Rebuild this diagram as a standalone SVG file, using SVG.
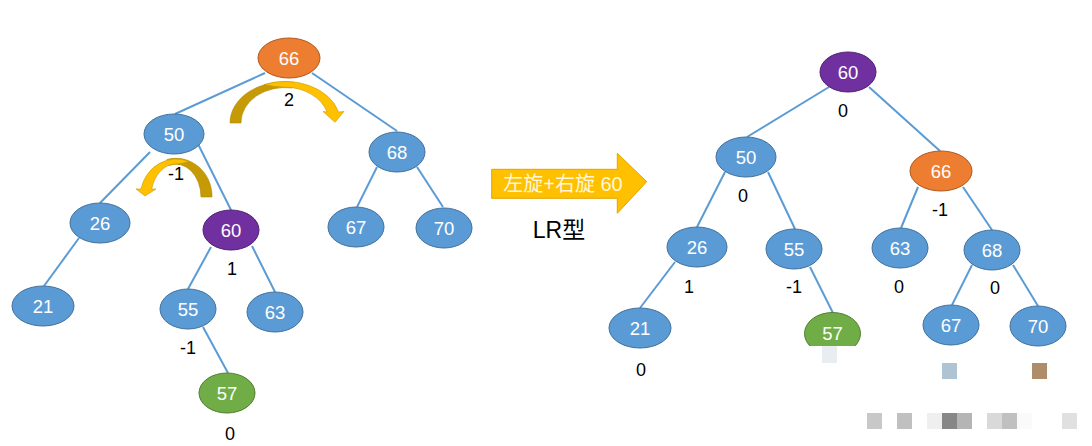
<svg xmlns="http://www.w3.org/2000/svg" width="1092" height="446" viewBox="0 0 1092 446">
<style>
.edge{stroke:#5b9bd5;stroke-width:2;fill:none}
.blue{fill:#5b9bd5;stroke:#41719c;stroke-width:1}
.orange{fill:#ed7d31;stroke:#ae5a21;stroke-width:1}
.purple{fill:#7030a0;stroke:#4f2270;stroke-width:1}
.green{fill:#70ad47;stroke:#507e32;stroke-width:1}
.nt{font-family:"Liberation Sans","Open Sans",sans-serif;font-size:18.5px;fill:#ffffff;text-anchor:middle}
.bf{font-family:"Liberation Sans","Open Sans",sans-serif;font-size:18px;fill:#000000;text-anchor:middle}
.dark{fill:#c59a05;stroke:#b08800;stroke-width:0.6}
.yel{fill:#ffc000;stroke:#c89a00;stroke-width:0.6}
</style>
<defs>
<clipPath id="cut57"><rect x="790" y="300" width="80" height="46"/></clipPath>
</defs>
<rect width="1092" height="446" fill="#ffffff"/>

<g id="connectors">
<line class="edge" x1="265" y1="73" x2="175" y2="114"/>
<line class="edge" x1="312" y1="73" x2="397" y2="131"/>
<line class="edge" x1="150" y1="152" x2="100" y2="203"/>
<line class="edge" x1="196" y1="140" x2="231" y2="210"/>
<line class="edge" x1="79" y1="238" x2="44" y2="286"/>
<line class="edge" x1="211" y1="247" x2="188" y2="289"/>
<line class="edge" x1="252" y1="246" x2="275" y2="292"/>
<line class="edge" x1="203" y1="327" x2="228" y2="373"/>
<line class="edge" x1="377" y1="167" x2="357" y2="207"/>
<line class="edge" x1="417" y1="167" x2="443" y2="207"/>
<line class="edge" x1="829" y1="87" x2="747" y2="137"/>
<line class="edge" x1="869" y1="87" x2="940" y2="151"/>
<line class="edge" x1="725" y1="172" x2="697" y2="227"/>
<line class="edge" x1="768" y1="172" x2="795" y2="229"/>
<line class="edge" x1="675" y1="262" x2="640" y2="308"/>
<line class="edge" x1="810" y1="267" x2="833" y2="313"/>
<line class="edge" x1="918" y1="187" x2="901" y2="228"/>
<line class="edge" x1="963" y1="187" x2="992" y2="230"/>
<line class="edge" x1="972" y1="265" x2="952" y2="305"/>
<line class="edge" x1="1013" y1="265" x2="1038" y2="306"/>
</g>

<g id="rot-arrow-big">
<path class="dark" d="M230,123 A55 41 0 0 1 294,82.3 L292,88 A44 35 0 0 0 241,123 Z"/>
<path class="yel" d="M264,84.6 A55 41 0 0 1 338.5,112 L344,111.5 L335,122.3 L323,111.5 L327,112 A44 35 0 0 0 285,87.2 Q275,87 264,84.6 Z"/>
</g>
<g id="rot-arrow-small">
<path class="dark" d="M212,197 A36 38 0 0 0 167,159.5 L169,165.5 A25 33 0 0 1 201,197 Z"/>
<path class="yel" d="M189,161.5 A36 38 0 0 0 141,189 L136,189 L145,196 L156,189 L151.7,189 A25 33 0 0 1 176,164 Q182,163.5 189,161.5 Z"/>
</g>

<!-- left tree -->
<g id="L66"><ellipse class="orange" cx="289" cy="58" rx="31" ry="20"/><text class="nt" x="289" y="64.5">66</text><text class="bf" x="289" y="105.5">2</text></g>
<g id="L50"><ellipse class="blue" cx="174" cy="134" rx="30" ry="20"/><text class="nt" x="174" y="140.5">50</text><text class="bf" x="176" y="179.5">-1</text></g>
<g id="L68"><ellipse class="blue" cx="397" cy="152" rx="28" ry="20"/><text class="nt" x="397" y="158.5">68</text></g>
<g id="L26"><ellipse class="blue" cx="100" cy="223" rx="30" ry="20"/><text class="nt" x="100" y="229.5">26</text></g>
<g id="L60"><ellipse class="purple" cx="231" cy="230" rx="28" ry="20"/><text class="nt" x="231" y="236.5">60</text><text class="bf" x="232" y="274.5">1</text></g>
<g id="L67"><ellipse class="blue" cx="356" cy="227" rx="28" ry="20"/><text class="nt" x="356" y="233.5">67</text></g>
<g id="L70"><ellipse class="blue" cx="444" cy="228" rx="28" ry="20"/><text class="nt" x="444" y="234.5">70</text></g>
<g id="L21"><ellipse class="blue" cx="43" cy="306" rx="31" ry="20"/><text class="nt" x="43" y="312.5">21</text></g>
<g id="L55"><ellipse class="blue" cx="188" cy="309" rx="28" ry="20"/><text class="nt" x="188" y="315.5">55</text><text class="bf" x="188" y="353.5">-1</text></g>
<g id="L63"><ellipse class="blue" cx="275" cy="312" rx="28" ry="20"/><text class="nt" x="275" y="318.5">63</text></g>
<g id="L57"><ellipse class="green" cx="227" cy="393" rx="28" ry="20"/><text class="nt" x="227" y="399.5">57</text><text class="bf" x="230" y="439.5">0</text></g>

<!-- middle arrow -->
<g id="transform-arrow">
<path d="M491.7,169.3 L617.3,169.3 L617.3,153.3 L646.7,181.7 L617.3,213.3 L617.3,198.3 L491.7,198.3 Z" fill="#ffc000" stroke="#e0a400" stroke-width="1"/>
<text x="563" y="190.5" font-family="'Liberation Sans','Noto Sans CJK SC',sans-serif" font-size="20" fill="#fff6dc" text-anchor="middle">左旋+右旋 60</text>
<text x="559" y="237.5" font-family="'Liberation Sans','Noto Sans CJK SC',sans-serif" font-size="23" fill="#000000" text-anchor="middle">LR型</text>
</g>

<!-- right tree -->
<g id="R60"><ellipse class="purple" cx="848" cy="72" rx="28" ry="20"/><text class="nt" x="848" y="78.5">60</text><text class="bf" x="843" y="117">0</text></g>
<g id="R50"><ellipse class="blue" cx="746" cy="157" rx="30" ry="20"/><text class="nt" x="746" y="163.5">50</text><text class="bf" x="743" y="201.5">0</text></g>
<g id="R66"><ellipse class="orange" cx="941" cy="171" rx="31" ry="20"/><text class="nt" x="941" y="177.5">66</text><text class="bf" x="940" y="215.5">-1</text></g>
<g id="R26"><ellipse class="blue" cx="697" cy="247" rx="30" ry="20"/><text class="nt" x="697" y="253.5">26</text><text class="bf" x="689" y="293">1</text></g>
<g id="R55"><ellipse class="blue" cx="794" cy="249" rx="28" ry="20"/><text class="nt" x="794" y="255.5">55</text><text class="bf" x="794" y="292.5">-1</text></g>
<g id="R63"><ellipse class="blue" cx="900" cy="248" rx="28" ry="20"/><text class="nt" x="900" y="254.5">63</text><text class="bf" x="899" y="292.5">0</text></g>
<g id="R68"><ellipse class="blue" cx="992" cy="250" rx="28" ry="20"/><text class="nt" x="992" y="256.5">68</text><text class="bf" x="995" y="294">0</text></g>
<g id="R21"><ellipse class="blue" cx="640" cy="328" rx="31" ry="20"/><text class="nt" x="640" y="334.5">21</text><text class="bf" x="641" y="375.5">0</text></g>
<g id="R57" clip-path="url(#cut57)"><ellipse class="green" cx="832.5" cy="333.5" rx="28" ry="21"/><text class="nt" x="832.5" y="340">57</text></g>
<g id="R67"><ellipse class="blue" cx="951" cy="325" rx="28" ry="20"/><text class="nt" x="951" y="331.5">67</text></g>
<g id="R70"><ellipse class="blue" cx="1038" cy="326" rx="28" ry="20"/><text class="nt" x="1038" y="332.5">70</text></g>

<!-- pixel blocks -->
<rect x="822" y="346" width="15" height="17" fill="#e8edf2"/>
<rect x="942" y="363" width="15" height="16" fill="#aec4d2"/>
<rect x="1032" y="363" width="15" height="16" fill="#ad8e68"/>
<rect x="867" y="413" width="15" height="16" fill="#c8c8c8"/>
<rect x="897" y="413" width="15" height="16" fill="#c0c0c0"/>
<rect x="927" y="413" width="15" height="16" fill="#efefef"/>
<rect x="942" y="413" width="15" height="16" fill="#878787"/>
<rect x="957" y="413" width="15" height="16" fill="#b5b5b5"/>
<rect x="987" y="413" width="15" height="16" fill="#d9d9d9"/>
<rect x="1002" y="413" width="15" height="16" fill="#c0c0c0"/>
<rect x="1017" y="413" width="15" height="16" fill="#fafafa"/>
<rect x="1062" y="413" width="15" height="16" fill="#e0e0e0"/>
</svg>
